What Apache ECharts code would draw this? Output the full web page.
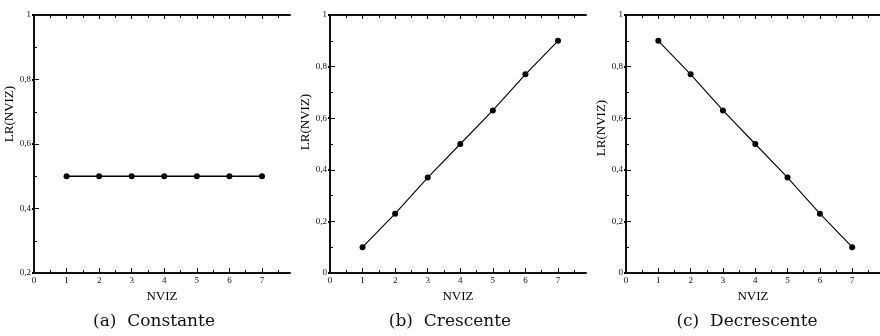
<!DOCTYPE html>
<html>
<head>
<meta charset="utf-8">
<script src="https://cdn.jsdelivr.net/npm/echarts@6/dist/echarts.min.js"></script>
<style>
  html, body { margin: 0; padding: 0; background: #fff; }
  #chart { width: 880px; height: 336px; }
</style>
</head>
<body>
<div id="chart"></div>
<script>
// dados
const nviz = [1, 2, 3, 4, 5, 6, 7];
const lrConstante = [0.5, 0.5, 0.5, 0.5, 0.5, 0.5, 0.5];
const lrCrescente = [0.1, 0.23, 0.37, 0.5, 0.63, 0.77, 0.9];
const lrDecrescente = [0.9, 0.77, 0.63, 0.5, 0.37, 0.23, 0.1];
const xTicks = [0, 1, 2, 3, 4, 5, 6, 7];
const xHalfTicks = [0.5, 1.5, 2.5, 3.5, 4.5, 5.5, 6.5, 7.5];
const yMins = [0.2, 0, 0];
const captions = ['(a)  Constante', '(b)  Crescente', '(c)  Decrescente'];
const xName = 'NVIZ';
const yName = 'LR(NVIZ)';

const seriesData = [lrConstante, lrCrescente, lrDecrescente];

// posicao de cada painel
const gridLefts = [34, 330, 626];
const captionX = [154, 450, 747];
const yNameShift = [60, 44, 32];
const xMax = 7.86;

const axisColor = '#111';
const serif = '"Liberation Serif", "DejaVu Serif", serif';

let grids = [], xAxes = [], yAxes = [], series = [], graphics = [];

seriesData.forEach((vals, i) => {
  grids.push({left: gridLefts[i], top: 15, width: 256, height: 258});

  let base = {gridIndex: i, type: 'value', min: 0, max: xMax, splitLine: {show: false}};
  // eixo de baixo, com rotulos
  xAxes.push(Object.assign({}, base, {
    position: 'bottom',
    name: xName, nameLocation: 'middle', nameGap: 13,
    nameTextStyle: {fontFamily: serif, fontSize: 13, color: '#000'},
    axisLine: {lineStyle: {color: axisColor, width: 2}},
    axisTick: {inside: true, length: 5, customValues: xTicks, lineStyle: {color: axisColor, width: 1}},
    axisLabel: {customValues: xTicks, margin: 3, fontFamily: serif, fontSize: 9, color: '#111'}
  }));
  // meios ticks em baixo
  xAxes.push(Object.assign({}, base, {
    position: 'bottom',
    axisLine: {show: false},
    axisTick: {inside: true, length: 3, customValues: xHalfTicks, lineStyle: {color: axisColor, width: 1}},
    axisLabel: {show: false}
  }));
  // eixo de cima
  xAxes.push(Object.assign({}, base, {
    position: 'top',
    axisLine: {lineStyle: {color: axisColor, width: 2}},
    axisTick: {inside: true, length: 4, customValues: xTicks, lineStyle: {color: axisColor, width: 1}},
    axisLabel: {show: false}
  }));
  xAxes.push(Object.assign({}, base, {
    position: 'top',
    axisLine: {show: false},
    axisTick: {inside: true, length: 3, customValues: xHalfTicks, lineStyle: {color: axisColor, width: 1}},
    axisLabel: {show: false}
  }));

  yAxes.push({
    gridIndex: i, type: 'value', position: 'left',
    min: yMins[i], max: 1, interval: 0.2,
    splitLine: {show: false},
    name: yName, nameLocation: 'middle', nameGap: 14,
    nameTextStyle: {fontFamily: serif, fontSize: 13, color: '#000', padding: [0, 0, 0, yNameShift[i]]},
    axisLine: {lineStyle: {color: axisColor, width: 2}},
    axisTick: {inside: true, length: 5, lineStyle: {color: axisColor, width: 1}},
    minorTick: {show: true, splitNumber: 2, length: 3, lineStyle: {color: axisColor, width: 1}},
    axisLabel: {
      margin: 3, fontFamily: serif, fontSize: 9, color: '#111',
      formatter: v => (v === 0 || v === 1) ? String(v) : v.toFixed(1).replace('.', ',')
    }
  });
  yAxes.push({
    gridIndex: i, type: 'value', position: 'right',
    min: yMins[i], max: 1, interval: 0.2,
    splitLine: {show: false},
    axisLine: {show: false},
    axisTick: {inside: true, length: 2, lineStyle: {color: '#000', width: 2}},
    axisLabel: {show: false}
  });

  series.push({
    type: 'line',
    xAxisIndex: i * 4,
    yAxisIndex: i * 2,
    data: nviz.map((x, k) => [x, vals[k]]),
    symbol: 'circle',
    symbolSize: 6,
    itemStyle: {color: '#000'},
    lineStyle: {color: '#000', width: i === 0 ? 1.6 : 1.1},
    animation: false
  });

  graphics.push({
    type: 'text', x: captionX[i], y: 322,
    style: {text: captions[i], font: '17px "DejaVu Serif", serif', fill: '#111',
      textAlign: 'center', textVerticalAlign: 'middle'}
  });
});

let myChart = echarts.init(document.getElementById('chart'));
myChart.setOption({
  animation: false,
  grid: grids,
  xAxis: xAxes,
  yAxis: yAxes,
  series: series,
  graphic: graphics
});
</script>
</body>
</html>
